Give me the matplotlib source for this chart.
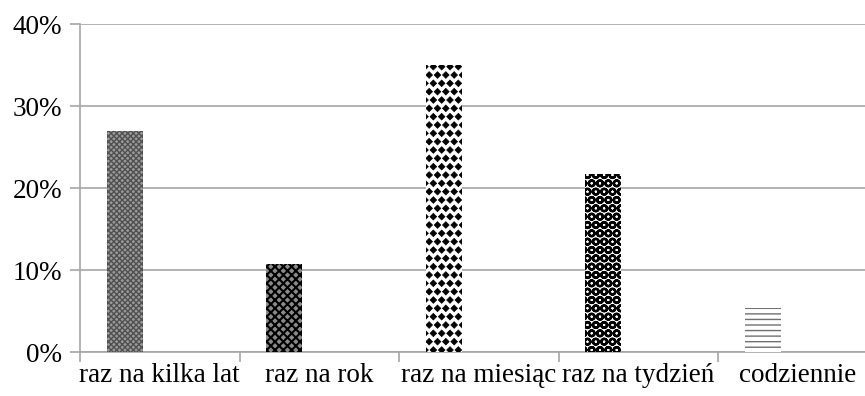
import warnings
import matplotlib.pyplot as plt
import matplotlib.hatch as mhatch
from matplotlib.path import Path
import numpy as np

warnings.filterwarnings("ignore")
plt.rcParams['font.family'] = ['Liberation Serif', 'DejaVu Serif']


# filled diamond hatch ('d'), like the Excel pattern in the original
class FilledDiamonds(mhatch.Shapes):
    size = 0.4
    filled = True

    def __init__(self, hatch, density):
        self.num_rows = hatch.count('d') * density
        self.shape_vertices = np.array([[0, 1], [1, 0], [0, -1], [-1, 0], [0, 1]], float)
        self.shape_codes = np.array([Path.MOVETO, Path.LINETO, Path.LINETO,
                                     Path.LINETO, Path.CLOSEPOLY])
        super().__init__(hatch, density)


mhatch._hatch_types.append(FilledDiamonds)

categories = ["raz na kilka lat", "raz na rok", "raz na miesiąc", "raz na tydzień", "codziennie"]
values = [27, 10.7, 35, 21.7, 5.4]
fills = ["#9a9a9a", "#8a8a8a", "white", "white", "white"]
hatch_colors = ["#505050", "black", "black", "black", "#707070"]
hatches = ["xxxxxx", "xxxx", "dd", "OO", "---"]
hatch_widths = [1.0, 1.5, 0.5, 1.7, 1.0]

fig = plt.figure(figsize=(8.65, 3.96), dpi=100)
ax = fig.add_axes([0.0925, 0.111, 0.922, 0.828])

x = np.arange(len(categories))
for i in range(len(categories)):
    with plt.rc_context({'hatch.linewidth': hatch_widths[i]}):
        ax.bar(x[i] - 0.22, values[i], width=0.226, color=fills[i],
               edgecolor=hatch_colors[i], hatch=hatches[i], linewidth=0, zorder=3)

ax.set_xlim(-0.5, len(categories) - 0.5)
ax.set_ylim(0, 40)
ax.set_yticks([0, 10, 20, 30, 40])
ax.set_yticklabels(["0%", "10%", "20%", "30%", "40%"], fontsize=19.5)
ax.yaxis.grid(True, color="#a6a6a6", linewidth=1.2, zorder=0)

ax.set_xticks(x)
ax.set_xticklabels(categories, fontsize=19.5)
ax.set_xticks(np.arange(len(categories) + 1) - 0.5, minor=True)
ax.tick_params(axis="x", which="major", length=0, pad=8)
ax.tick_params(axis="x", which="minor", length=7, color="#a6a6a6", width=1.2)
ax.tick_params(axis="y", length=7, color="#a6a6a6", width=1.2, pad=6)

for s in ["top", "right"]:
    ax.spines[s].set_visible(False)
for s in ["left", "bottom"]:
    ax.spines[s].set_color("#a6a6a6")
    ax.spines[s].set_linewidth(1.2)

fig.savefig("out.png", dpi=100)
